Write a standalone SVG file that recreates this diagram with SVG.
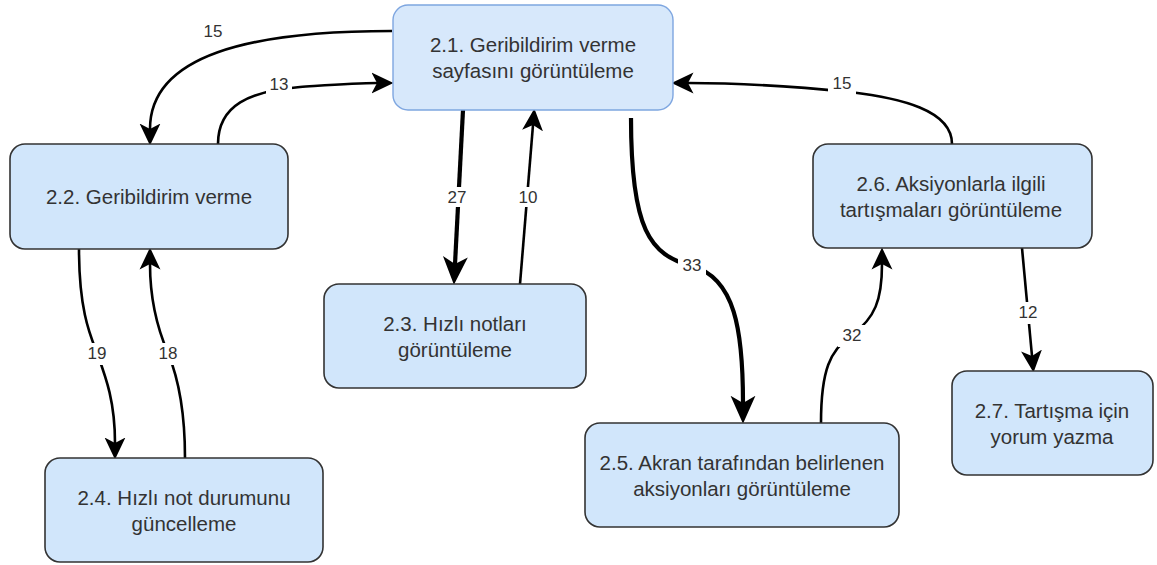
<svg xmlns="http://www.w3.org/2000/svg" width="1157" height="565" viewBox="0 0 1157 565">
<style>
.box{fill:#d1e6fb;stroke:#333333;stroke-width:1.6}
.box1{fill:#d7e8fb;stroke:#7ea6e0;stroke-width:1.4}
.t{font-family:"Liberation Sans",Arial,sans-serif;font-size:20.5px;fill:#333333;text-anchor:middle}
.e{fill:none;stroke:#000000;stroke-width:2.6}
.ek{fill:none;stroke:#000000;stroke-width:4.2}
.lb{font-family:"Liberation Sans",Arial,sans-serif;font-size:17px;fill:#333333;text-anchor:middle}
.bg{fill:#ffffff}
</style>
<defs>
<marker id="a" markerUnits="userSpaceOnUse" markerWidth="22" markerHeight="22" viewBox="0 0 20 20" refX="5" refY="10" orient="auto">
<path d="M20,10 L0,0.5 L5,10 L0,19.5 Z" fill="#000"/>
</marker>
<marker id="ak" markerUnits="userSpaceOnUse" markerWidth="28" markerHeight="26" viewBox="0 0 27 25" refX="7" refY="12.5" orient="auto">
<path d="M27,12.5 L0,0.5 L7,12.5 L0,24.5 Z" fill="#000"/>
</marker>
</defs>
<g id="connectors">
<path class="e" d="M392,31 C250,31 150,55 150,129" marker-end="url(#a)"/>
<path class="e" d="M218,144 C218,105 250,91 300,87 C330,85 355,83 377,83" marker-end="url(#a)"/>
<path class="e" d="M952,144 C952,110 900,98 850,92 C790,86 740,83 688,83" marker-end="url(#a)"/>
<path class="ek" d="M463,110 L455,264" marker-end="url(#ak)"/>
<path class="e" d="M520,284 L533,125" marker-end="url(#a)"/>
<path class="ek" d="M631,118 C631,230 650,255 692,266 C735,278 743,330 743,403" marker-end="url(#ak)"/>
<path class="e" d="M821,423 C821,370 830,350 852,335 C875,318 882,300 882,264" marker-end="url(#a)"/>
<path class="e" d="M79,249 C79,310 90,335 97,353 C105,375 115,400 115,443" marker-end="url(#a)"/>
<path class="e" d="M185,458 C185,400 175,370 168,353 C158,330 150,300 150,264" marker-end="url(#a)"/>
<path class="e" d="M1022,248 L1032,356" marker-end="url(#a)"/>
<text class="lb" x="213" y="37">15</text>
<rect class="bg" x="266" y="73" width="26" height="22"/>
<text class="lb" x="279" y="90">13</text>
<rect class="bg" x="828" y="72" width="28" height="22"/>
<text class="lb" x="842" y="89">15</text>
<rect class="bg" x="444" y="187" width="26" height="20"/>
<text class="lb" x="457" y="203">27</text>
<rect class="bg" x="515" y="187" width="26" height="20"/>
<text class="lb" x="528" y="203">10</text>
<rect class="bg" x="678" y="255" width="28" height="22"/>
<text class="lb" x="692" y="271">33</text>
<rect class="bg" x="838" y="325" width="28" height="22"/>
<text class="lb" x="852" y="341">32</text>
<rect class="bg" x="84" y="343" width="26" height="22"/>
<text class="lb" x="97" y="359">19</text>
<rect class="bg" x="155" y="343" width="26" height="22"/>
<text class="lb" x="168" y="359">18</text>
<rect class="bg" x="1015" y="302" width="26" height="22"/>
<text class="lb" x="1028" y="318">12</text>
</g>
<g id="n21">
<rect class="box1" x="393" y="5" width="280" height="105" rx="15"/>
<text class="t" x="533" y="52">2.1. Geribildirim verme</text>
<text class="t" x="533" y="78">sayfasını görüntüleme</text>
</g>
<g id="n22">
<rect class="box" x="10" y="144" width="278" height="105" rx="15"/>
<text class="t" x="149" y="204">2.2. Geribildirim verme</text>
</g>
<g id="n23">
<rect class="box" x="324" y="284" width="262" height="104" rx="15"/>
<text class="t" x="455" y="330.5">2.3. Hızlı notları</text>
<text class="t" x="455" y="356.5">görüntüleme</text>
</g>
<g id="n24">
<rect class="box" x="45" y="458" width="278" height="104" rx="15"/>
<text class="t" x="184" y="504.5">2.4. Hızlı not durumunu</text>
<text class="t" x="184" y="530.5">güncelleme</text>
</g>
<g id="n25">
<rect class="box" x="585" y="423" width="314" height="104" rx="15"/>
<text class="t" x="742" y="469.5">2.5. Akran tarafından belirlenen</text>
<text class="t" x="742" y="495.5">aksiyonları görüntüleme</text>
</g>
<g id="n26">
<rect class="box" x="813" y="144" width="279" height="104" rx="15"/>
<text class="t" x="951" y="190.5">2.6. Aksiyonlarla ilgili</text>
<text class="t" x="951" y="216.5">tartışmaları görüntüleme</text>
</g>
<g id="n27">
<rect class="box" x="952" y="371" width="201" height="104" rx="15"/>
<text class="t" x="1052" y="417.5">2.7. Tartışma için</text>
<text class="t" x="1052" y="443.5">yorum yazma</text>
</g>
</svg>
